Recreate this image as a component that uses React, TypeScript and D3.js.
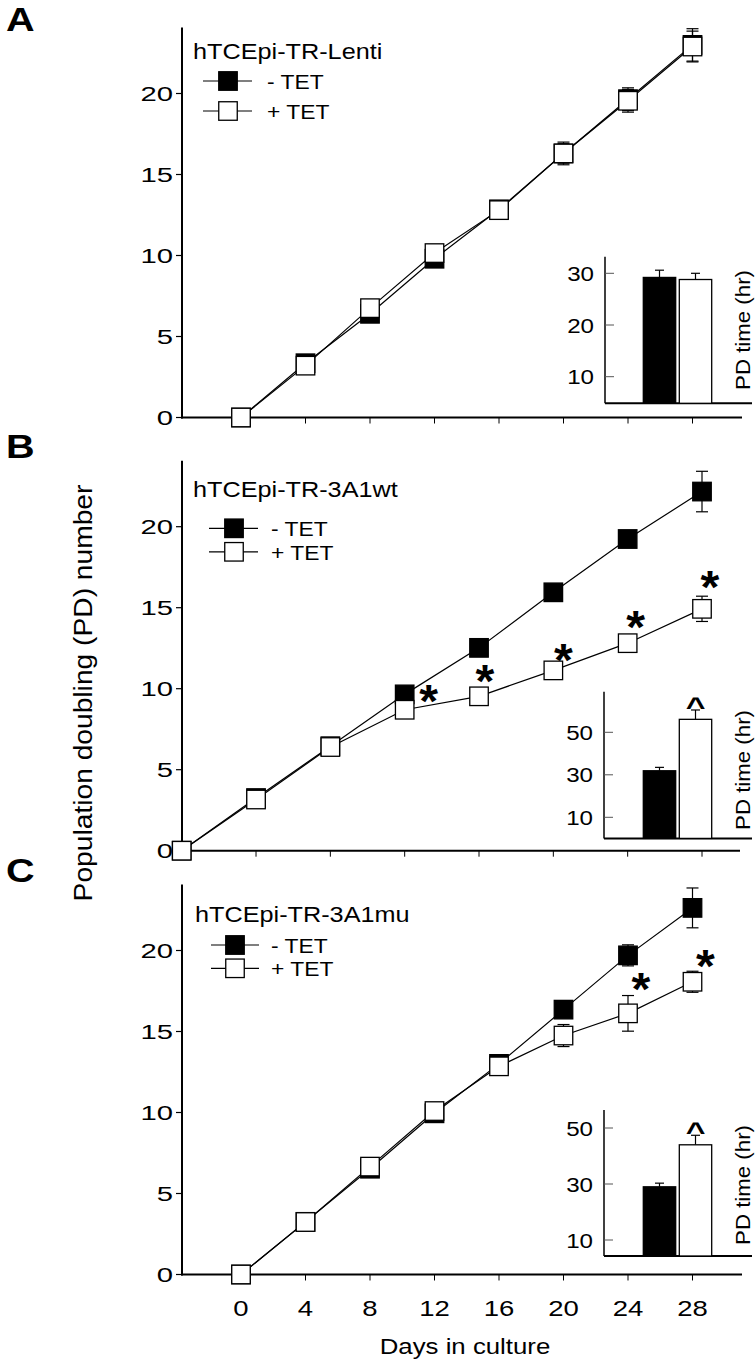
import React from 'react';
import * as d3 from 'd3';

// ---------------- data ----------------
const days = [0, 4, 8, 12, 16, 20, 24, 28];
const dayTicks = [0, 4, 8, 12, 16, 20, 24, 28];
const pdTicks = [0, 5, 10, 15, 20];
const seriesLabels = ['- TET', '+ TET'];

const lentiMinus = [0, 3.35, 6.4, 9.8, 12.85, 16.3, 19.65, 23.0];
const lentiMinusErr = [0, 0.1, 0.1, 0.1, 0.1, 0.7, 0.7, 1.0];
const lentiPlus = [0, 3.2, 6.75, 10.15, 12.8, 16.3, 19.55, 22.9];
const lentiPlusErr = [0, 0.1, 0.1, 0.1, 0.1, 0.6, 0.7, 0.95];

const wtMinus = [0, 3.25, 6.45, 9.65, 12.52, 15.95, 19.24, 22.17];
const wtMinusErr = [0, 0.1, 0.1, 0.1, 0.1, 0.2, 0.35, 1.25];
const wtPlus = [0, 3.16, 6.4, 8.7, 9.53, 11.13, 12.81, 14.93];
const wtPlusErr = [0, 0.1, 0.1, 0.1, 0.1, 0.1, 0.2, 0.78];

const muMinus = [0, 3.25, 6.53, 9.95, 13.0, 16.35, 19.7, 22.63];
const muMinusErr = [0, 0.1, 0.1, 0.1, 0.1, 0.4, 0.65, 1.23];
const muPlus = [0, 3.24, 6.66, 10.09, 12.85, 14.75, 16.12, 18.07];
const muPlusErr = [0, 0.1, 0.1, 0.1, 0.1, 0.68, 1.1, 0.65];

const insetLentiTicks = [10, 20, 30];
const insetLenti = [29.2, 28.8];
const insetLentiErr = [1.4, 1.2];
const insetWtTicks = [10, 30, 50];
const insetWt = [31.9, 56.1];
const insetWtErr = [1.6, 4.4];
const insetMuTicks = [10, 30, 50];
const insetMu = [29.0, 44.0];
const insetMuErr = [1.3, 3.4];

// significance marks: index into days
const wtStars = [3, 4, 5, 6, 7];
const muStars = [6, 7];

// ---------------- style / layout ----------------
const FONT = '"Liberation Sans", Arial, Helvetica, sans-serif';
const MK = 18.5;

function Txt({ x, y, size, anchor = 'start', weight = 'normal', rotate = 0, sx = 1.17, children }: any) {
  return (
    <text
      transform={`translate(${x},${y}) rotate(${rotate}) scale(${sx},1)`}
      fontSize={size}
      fontFamily={FONT}
      fontWeight={weight}
      textAnchor={anchor}
      fill="#000"
    >
      {children}
    </text>
  );
}

type PanelProps = {
  letter: string;
  title: string;
  minus: number[];
  minusErr: number[];
  plus: number[];
  plusErr: number[];
  stars: number[];
  starOff: [number, number][];
  base: number;
  xr: [number, number];
  axisRight: number;
  letterY: number;
  titleX: number;
  titleY: number;
  legX: number;
  legLine: [number, number];
  legY: [number, number];
  legTextX: number;
  inset: {
    x0: number; x1: number; base: number; top: number;
    dom: [number, number]; rng: [number, number];
    ticks: number[]; vals: number[]; errs: number[];
    caret: boolean; labelY: number;
  };
  showXLabels?: boolean;
};

function Panel(p: PanelProps) {
  const x = d3.scaleLinear().domain([0, 28]).range(p.xr);
  const y = d3.scaleLinear().domain([0, 20]).range([p.base, p.base - 324]);
  const axisTop = p.base - 390;
  const line = d3
    .line<number>()
    .x((_, i) => x(days[i]))
    .y((v) => y(v));

  const ins = p.inset;
  const iy = d3.scaleLinear().domain(ins.dom).range(ins.rng);
  const ib = d3.scaleBand<string>().domain(seriesLabels).range([643.3, 711.7]).paddingInner(0.1);

  const errBars = (vals: number[], errs: number[], key: string) =>
    vals.map((v, i) =>
      errs[i] > 0.15 ? (
        <g key={key + i} stroke="#000" strokeWidth={1.2}>
          <line x1={x(days[i])} x2={x(days[i])} y1={y(v - errs[i])} y2={y(v + errs[i])} />
          <line x1={x(days[i]) - 6} x2={x(days[i]) + 6} y1={y(v + errs[i])} y2={y(v + errs[i])} />
          <line x1={x(days[i]) - 6} x2={x(days[i]) + 6} y1={y(v - errs[i])} y2={y(v - errs[i])} />
        </g>
      ) : null
    );

  const markers = (vals: number[], fill: string, key: string) =>
    vals.map((v, i) => (
      <rect
        key={key + i}
        x={x(days[i]) - MK / 2}
        y={y(v) - MK / 2}
        width={MK}
        height={MK}
        fill={fill}
        stroke="#000"
        strokeWidth={1.3}
      />
    ));

  return (
    <g>
      {/* panel letter */}
      <Txt x={6} y={p.letterY} size={33} weight="bold" sx={1.2}>
        {p.letter}
      </Txt>

      {/* y axis */}
      <line x1={182} x2={182} y1={axisTop} y2={p.base + 1} stroke="#000" strokeWidth={2} />
      {pdTicks.map((t) => (
        <g key={'yt' + t}>
          <line x1={176} x2={182} y1={y(t)} y2={y(t)} stroke="#000" strokeWidth={1.2} />
          <Txt x={173} y={y(t) + 7} size={19.5} anchor="end" sx={1.5}>
            {t}
          </Txt>
        </g>
      ))}

      {/* x axis */}
      <line x1={181} x2={p.axisRight} y1={p.base} y2={p.base} stroke="#000" strokeWidth={2} />
      {dayTicks.map((t) => (
        <line key={'xt' + t} x1={x(t)} x2={x(t)} y1={p.base} y2={p.base + 6} stroke="#000" strokeWidth={1} />
      ))}
      {p.showXLabels &&
        dayTicks.map((t) => (
          <Txt key={'xl' + t} x={x(t)} y={p.base + 41} size={22} anchor="middle" sx={1.25}>
            {t}
          </Txt>
        ))}

      {/* inset */}
      <g>
        <line x1={ins.x0} x2={ins.x0} y1={ins.top} y2={ins.base} stroke="#000" strokeWidth={1.5} />
        <line x1={ins.x0} x2={ins.x1} y1={ins.base} y2={ins.base} stroke="#000" strokeWidth={2} />
        {ins.ticks.map((t) => (
          <g key={'it' + t}>
            <line x1={ins.x0} x2={ins.x0 + 9} y1={iy(t)} y2={iy(t)} stroke="#555" strokeWidth={1} />
            <Txt x={ins.x0 - 11} y={iy(t) + 7.5} size={21} anchor="end" sx={1.15}>
              {t}
            </Txt>
          </g>
        ))}
        {seriesLabels.map((s, i) => {
          const bx = ib(s) as number;
          const bw = ib.bandwidth();
          const top = iy(ins.vals[i]);
          const et = iy(ins.vals[i] + ins.errs[i]);
          return (
            <g key={'bar' + i}>
              <line x1={bx + bw / 2} x2={bx + bw / 2} y1={top} y2={et} stroke="#000" strokeWidth={1.2} />
              <line x1={bx + bw / 2 - 4.5} x2={bx + bw / 2 + 4.5} y1={et} y2={et} stroke="#000" strokeWidth={1.2} />
              <rect
                x={bx}
                y={top}
                width={bw}
                height={ins.base - top}
                fill={i === 0 ? '#000' : '#fff'}
                stroke="#000"
                strokeWidth={1.3}
              />
            </g>
          );
        })}
        {ins.caret && (
          <Txt
            x={(ib(seriesLabels[1]) as number) + ib.bandwidth() / 2}
            y={iy(ins.vals[1] + ins.errs[1]) + 6}
            size={26}
            weight="bold"
            anchor="middle"
            sx={1.3}
          >
            ^
          </Txt>
        )}
        <Txt x={750} y={ins.labelY} size={21} anchor="middle" rotate={-90} sx={1.06}>
          PD time (hr)
        </Txt>
      </g>

      {/* data */}
      {errBars(p.minus, p.minusErr, 'em')}
      {errBars(p.plus, p.plusErr, 'ep')}
      <path d={line(p.minus) || ''} fill="none" stroke="#000" strokeWidth={1.2} />
      <path d={line(p.plus) || ''} fill="none" stroke="#000" strokeWidth={1.2} />
      {markers(p.minus, '#000', 'mm')}
      {markers(p.plus, '#fff', 'mp')}
      {p.stars.map((si, k) => (
        <Txt
          key={'st' + k}
          x={x(days[si]) + p.starOff[k][0]}
          y={y(p.plus[si]) + p.starOff[k][1] + 24}
          size={46}
          weight="bold"
          anchor="middle"
          sx={1.05}
        >
          *
        </Txt>
      ))}

      {/* title and legend */}
      <Txt x={p.titleX} y={p.titleY} size={21.4} sx={1.18}>
        {p.title}
      </Txt>
      {[0, 1].map((k) => (
        <g key={'lg' + k}>
          <line x1={p.legLine[0]} x2={p.legLine[1]} y1={p.legY[k]} y2={p.legY[k]} stroke="#000" strokeWidth={1.2} />
          <rect
            x={p.legX - MK / 2}
            y={p.legY[k] - MK / 2}
            width={MK}
            height={MK}
            fill={k === 0 ? '#000' : '#fff'}
            stroke="#000"
            strokeWidth={1.3}
          />
          <Txt x={p.legTextX} y={p.legY[k] + 8} size={19.5}>
            {seriesLabels[k]}
          </Txt>
        </g>
      ))}
    </g>
  );
}

export default function App() {
  return (
    <svg
      width={756}
      height={1362}
      viewBox="0 0 756 1362"
      style={{ position: 'absolute', left: 0, top: 0, background: '#fff' }}
    >
      <rect x={0} y={0} width={756} height={1362} fill="#fff" />
      <Panel
        letter="A"
        title="hTCEpi-TR-Lenti"
        minus={lentiMinus}
        minusErr={lentiMinusErr}
        plus={lentiPlus}
        plusErr={lentiPlusErr}
        stars={[]}
        starOff={[]}
        base={417.5}
        xr={[241, 692.5]}
        axisRight={742}
        letterY={31}
        titleX={193}
        titleY={59}
        legX={228}
        legLine={[203, 252]}
        legY={[81, 111]}
        legTextX={267}
        inset={{
          x0: 605, x1: 752, base: 403.3, top: 256.7,
          dom: [10, 30], rng: [376.7, 273.3],
          ticks: insetLentiTicks, vals: insetLenti, errs: insetLentiErr,
          caret: false, labelY: 330,
        }}
      />
      <Panel
        letter="B"
        title="hTCEpi-TR-3A1wt"
        minus={wtMinus}
        minusErr={wtMinusErr}
        plus={wtPlus}
        plusErr={wtPlusErr}
        stars={wtStars}
        starOff={[[24, -17], [6, -23], [10, -18], [8, -24], [8, -30]]}
        base={850.7}
        xr={[181.7, 702]}
        axisRight={740}
        letterY={458}
        titleX={193}
        titleY={497}
        legX={234}
        legLine={[209, 258]}
        legY={[528.3, 551.8]}
        legTextX={271}
        inset={{
          x0: 604, x1: 752, base: 838.4, top: 691.7,
          dom: [10, 50], rng: [817.3, 732.3],
          ticks: insetWtTicks, vals: insetWt, errs: insetWtErr,
          caret: true, labelY: 770,
        }}
      />
      <Panel
        letter="C"
        title="hTCEpi-TR-3A1mu"
        minus={muMinus}
        minusErr={muMinusErr}
        plus={muPlus}
        plusErr={muPlusErr}
        stars={muStars}
        starOff={[[13, -32], [13, -24]]}
        base={1274.5}
        xr={[241, 692.5]}
        axisRight={742}
        letterY={882}
        titleX={195}
        titleY={922}
        legX={235}
        legLine={[211, 259]}
        legY={[945, 968.3]}
        legTextX={271}
        inset={{
          x0: 604, x1: 752, base: 1256, top: 1110,
          dom: [10, 50], rng: [1240, 1128],
          ticks: insetMuTicks, vals: insetMu, errs: insetMuErr,
          caret: true, labelY: 1185,
        }}
        showXLabels
      />
      <Txt x={92} y={693} size={26} anchor="middle" rotate={-90} sx={1.085}>
        Population doubling (PD) number
      </Txt>
      <Txt x={465} y={1354} size={21.5} anchor="middle" sx={1.2}>
        Days in culture
      </Txt>
    </svg>
  );
}
